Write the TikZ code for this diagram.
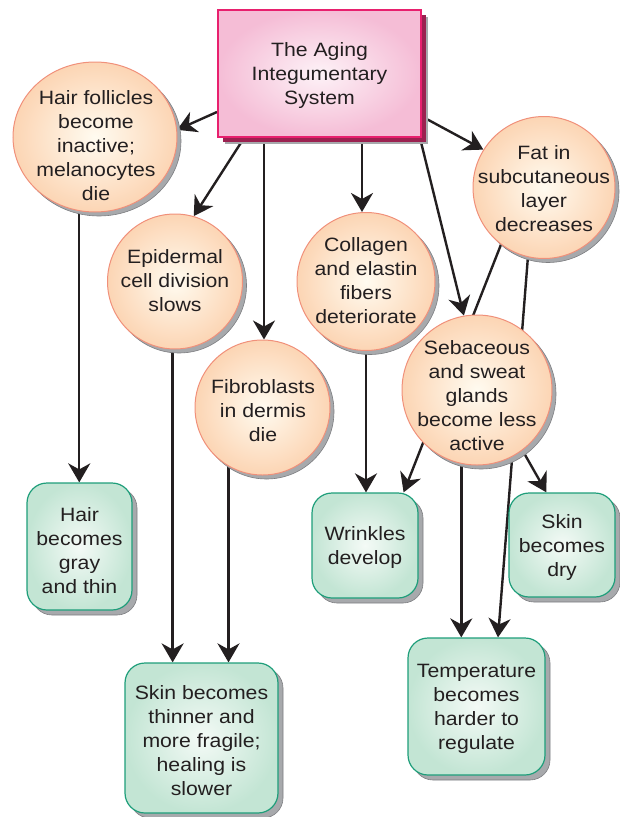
\documentclass[tikz,border=0pt]{standalone}
\usepackage{fontspec}
\newfontfamily\diafont[FakeStretch=1.1]{Liberation Sans}
\usetikzlibrary{arrows.meta,shapes.geometric,shadows,calc}
\pgfdeclarelayer{background}
\pgfsetlayers{background,main}
\definecolor{txtcol}{HTML}{231F20}
\definecolor{circedge}{HTML}{F0907A}
\definecolor{circin}{HTML}{FFFBF0}
\definecolor{circout}{HTML}{FCD5B4}
\definecolor{grnedge}{HTML}{1E9E7A}
\definecolor{grnin}{HTML}{F4FAF6}
\definecolor{grnout}{HTML}{C3E5D4}
\definecolor{pinkedge}{HTML}{E8206E}
\definecolor{pinkin}{HTML}{FDF2F7}
\definecolor{pinkout}{HTML}{F5BDD6}
\definecolor{shgray}{HTML}{A7A9AC}
\definecolor{shdark}{HTML}{7D7E81}
\definecolor{maroon}{HTML}{9B2150}
\begin{document}
\begin{tikzpicture}[x=1pt,y=-1pt,
  circnode/.style={circle, draw=circedge, line width=1pt, inner color=circin, outer color=circout,
    inner sep=0pt, general shadow={fill=shgray, draw=shdark, line width=0.6pt, shadow xshift=4pt, shadow yshift=-4pt}},
  ellnode/.style={ellipse, draw=circedge, line width=1pt, inner color=circin, outer color=circout,
    inner sep=0pt, general shadow={fill=shgray, draw=shdark, line width=0.6pt, shadow xshift=4pt, shadow yshift=-4pt}},
  boxnode/.style={rectangle, rounded corners=20pt, draw=grnedge, line width=1.2pt, inner color=grnin, outer color=grnout,
    inner sep=0pt, general shadow={fill=shgray, draw=shdark, line width=0.6pt, shadow xshift=5pt, shadow yshift=-5pt}},
  topbox/.style={rectangle, draw=pinkedge, line width=2pt, inner color=pinkin, outer color=pinkout, inner sep=0pt,
    general shadow={fill=shgray, shadow xshift=7pt, shadow yshift=-7pt},
    general shadow={fill=maroon, shadow xshift=5pt, shadow yshift=-5pt}},
  txt/.style={font=\diafont\fontsize{19.3}{24}\selectfont, text=txtcol, align=center, inner sep=0pt},
  arr/.style={draw=txtcol, line width=2.4pt, -{Stealth[length=19pt,width=22pt,inset=6pt]}},
  ln/.style={draw=txtcol, line width=2.4pt}
]
\useasboundingbox (0,0) rectangle (619,817);

% top box
\node[topbox, minimum width=203pt, minimum height=127pt] (top) at (319.5,73.5) {};
\node[txt] (topt) at (319.5,76) {The Aging\\Integumentary\\System};

% circles
\node[ellnode, minimum width=164pt, minimum height=150pt] (hf) at (95,137) {};
\node[txt] (hft) at (96,146) {Hair follicles\\become\\inactive;\\melanocytes\\die};

\node[circnode, minimum size=135pt] (ep) at (175,281.5) {};
\node[txt] (ept) at (175,281) {Epidermal\\cell division\\slows};

\node[circnode, minimum size=138pt] (col) at (366,281.5) {};
\node[txt] (colt) at (366,280.5) {Collagen\\and elastin\\fibers\\deteriorate};

\node[circnode, minimum size=135pt] (fb) at (262.5,407.5) {};
\node[txt] (fbt) at (263,411) {Fibroblasts\\in dermis\\die};

\node[circnode, minimum size=142pt] (fat) at (544,187.5) {};
\node[txt] (fatt) at (544,188.5) {Fat in\\subcutaneous\\layer\\decreases};

\node[circnode, minimum size=150pt] (seb) at (477,390) {};
\node[txt] (sebt) at (477,396) {Sebaceous\\and sweat\\glands\\become less\\active};

% green boxes
\node[boxnode, minimum width=105pt, minimum height=127pt] (hb) at (79.5,546.5) {};
\node[txt] (hbt) at (79.5,551) {Hair\\becomes\\gray\\and thin};

\node[boxnode, minimum width=153pt, minimum height=150pt] (sk) at (201.5,738) {};
\node[txt] (skt) at (201.5,741) {Skin becomes\\thinner and\\more fragile;\\healing is\\slower};

\node[boxnode, minimum width=106pt, minimum height=105pt] (wr) at (365,545.5) {};
\node[txt] (wrt) at (365,548) {Wrinkles\\develop};

\node[boxnode, minimum width=106pt, minimum height=104pt] (dry) at (562,545) {};
\node[txt] (dryt) at (562,548) {Skin\\becomes\\dry};

\node[boxnode, minimum width=137pt, minimum height=137pt] (temp) at (476.5,706.5) {};
\node[txt] (tempt) at (476.5,709) {Temperature\\becomes\\harder to\\regulate};

% connectors
\begin{pgfonlayer}{background}
\coordinate (s1) at ($(top.west)+(0,38.5)$);
\coordinate (s2) at ($(top.south west)+(27,0)$);
\coordinate (s3) at ($(top.south west)+(47,0)$);
\coordinate (s4) at ($(top.south west)+(145,0)$);
\coordinate (s5) at ($(top.south east)+(-2,0)$);
\coordinate (s6) at ($(top.east)+(0,43)$);
\coordinate (wrin) at ($(wr.north east)+(-15,0)$);
\coordinate (dryin) at ($(dry.north west)+(38,0)$);
\coordinate (tempin) at ($(temp.north)+(21.5,0)$);

\draw[arr] (s1) -- (hf.5);
\draw[arr] (s2) -- (ep.74);
\draw[arr] (s3) -- (s3 |- fb.north);
\draw[arr] (s4) -- (s4 |- col.north);
\draw[arr] (s5) -- (seb.100);
\draw[arr] (s6) -- (fat.148);
\draw[arr] (hf.258) -- (hf.258 |- hb.north);
\draw[arr] (ep.268) -- (ep.268 |- sk.north);
\draw[arr] (fb.240) -- (fb.240 |- sk.north);
\draw[arr] (col.270) -- (col.270 |- wr.north);
\draw[arr] (fat.233) -- (wrin);
\draw[arr] (seb.307) -- (dryin);
\draw[arr] (seb.258) -- (seb.258 |- temp.north);
\draw[arr] (fat.257) -- (tempin);
\end{pgfonlayer}
\end{tikzpicture}
\end{document}
